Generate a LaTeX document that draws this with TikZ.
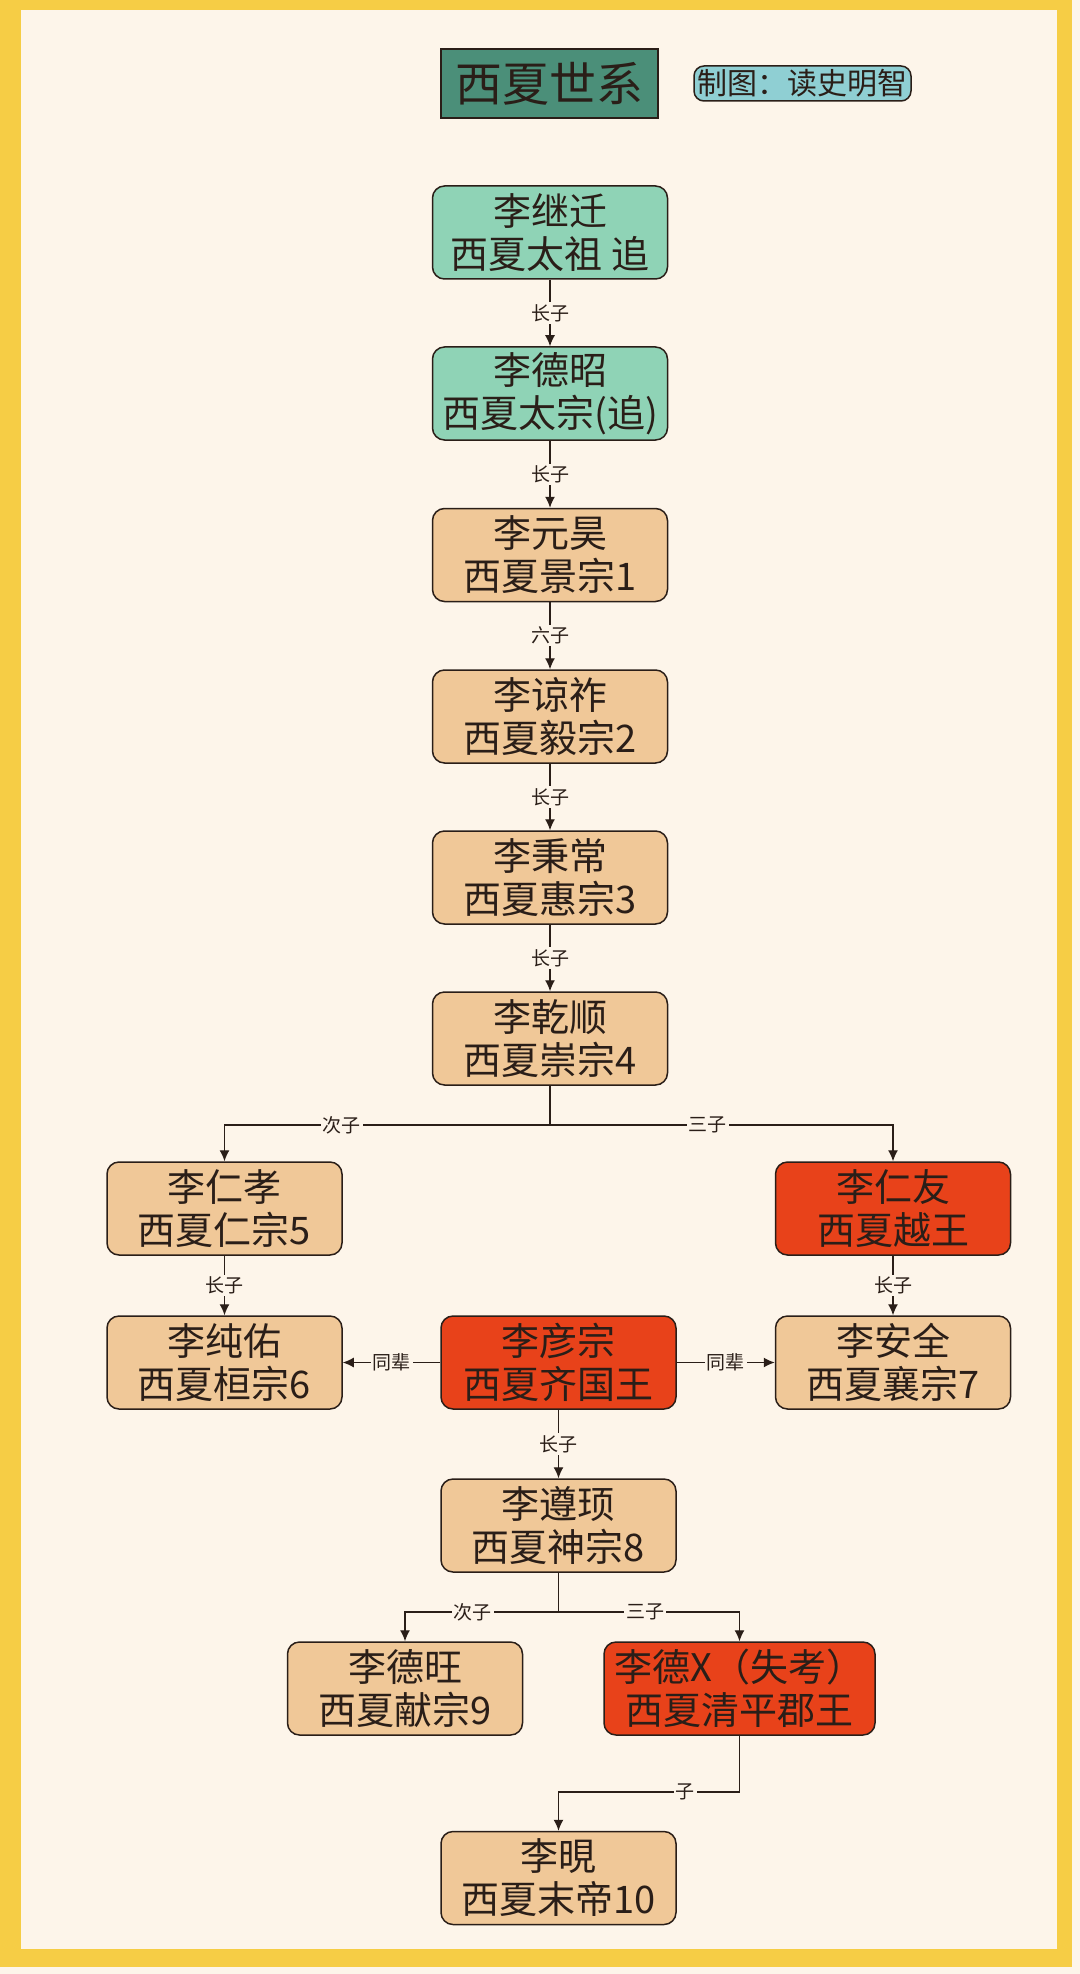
\documentclass[tikz,border=0pt]{standalone}
\usepackage{fontspec}
\setmainfont{Noto Sans CJK SC}
\usetikzlibrary{arrows.meta}

\definecolor{bgcream}{HTML}{FDF5EA}
\definecolor{framegold}{HTML}{F6CD45}
\definecolor{ancfill}{HTML}{8FD3B6}
\definecolor{empfill}{HTML}{F0C898}
\definecolor{wangfill}{HTML}{E8421A}
\definecolor{titlefill}{HTML}{4B8F79}
\definecolor{creditfill}{HTML}{8FCFD3}
\definecolor{ink}{HTML}{2A1E18}

\tikzset{
	person/.style={draw=ink, line width=0.75pt, rounded corners=6pt,
		minimum width=117.5pt, minimum height=46.5pt, inner sep=0pt,
		align=center, text=ink, font=\fontsize{19}{21.5}\selectfont},
	ancestor/.style={person, fill=ancfill},
	emperor/.style={person, fill=empfill},
	prince/.style={person, fill=wangfill},
	kinlab/.style={fill=bgcream, inner sep=1pt, text=ink,
		font=\fontsize{9.5}{10}\selectfont},
	link/.style={draw=ink, line width=0.65pt},
	arr/.style={link, -{Latex[length=5.5pt,width=5pt]}}
}

\begin{document}
\begin{tikzpicture}[x=0.5pt,y=-0.5pt]
	% page and frame
	\fill[bgcream] (0,0) rectangle (1080,1974);
	\fill[framegold] (0,0) rectangle (1072,1967);
	\fill[bgcream] (21,10) rectangle (1057,1949);
	\useasboundingbox (0,0) rectangle (1080,1974);

	% heading
	\node[draw=ink, line width=0.75pt, fill=titlefill, minimum width=108.5pt,
		minimum height=34.5pt, inner sep=0pt, text=ink,
		font=\fontsize{23.5}{23.5}\selectfont] (title) at (549.5,83.5) {西夏世系};
	\node[draw=ink, line width=0.75pt, fill=creditfill, rounded corners=5pt,
		minimum width=108.5pt, minimum height=17.5pt, inner sep=0pt, text=ink,
		font=\fontsize{15}{15}\selectfont] (credit) at (802.5,83.5) {制图：读史明智};

	% main line
	\foreach \nid/\ny/\nkind/\nname/\ntitle in {
		n1/232.5/ancestor/李继迁/西夏太祖 追,
		n2/393.5/ancestor/李德昭/西夏太宗(追),
		n3/555/emperor/李元昊/西夏景宗1,
		n4/716.5/emperor/李谅祚/西夏毅宗2,
		n5/877.5/emperor/李秉常/西夏惠宗3,
		n6/1038.5/emperor/李乾顺/西夏崇宗4
	}
		\node[\nkind] (\nid) at (550,\ny) {\nname\\\ntitle};

	\foreach \a/\b/\rel in {n1/n2/长子, n2/n3/长子, n3/n4/六子, n4/n5/长子, n5/n6/长子}
		\draw[arr] (\a) -- node[kinlab]{\rel} (\b);

	% sons of 李乾顺
	\node[emperor] (n7l) at (224.5,1208.5) {李仁孝\\西夏仁宗5};
	\node[prince] (n7r) at (893,1208.5) {李仁友\\西夏越王};
	\node[emperor] (n8l) at (224.5,1362.5) {李纯佑\\西夏桓宗6};
	\node[prince] (n8m) at (558.5,1362.5) {李彦宗\\西夏齐国王};
	\node[emperor] (n8r) at (893,1362.5) {李安全\\西夏襄宗7};
	\node[emperor] (n9) at (558.5,1525.5) {李遵顼\\西夏神宗8};
	\node[emperor] (n10l) at (405,1688.5) {李德旺\\西夏献宗9};
	\node[prince, minimum width=135.5pt] (n10r) at (739.5,1688.5) {李德X（失考）\\西夏清平郡王};
	\node[emperor] (n11) at (558.5,1878) {李晛\\西夏末帝10};

	\coordinate (fork6) at (550,1125);
	\draw[link] (n6) -- (fork6);
	\draw[arr] (fork6) -| node[kinlab,pos=0.32]{次子} (n7l);
	\draw[arr] (fork6) -| node[kinlab,pos=0.23]{三子} (n7r);

	\draw[arr] (n7l) -- node[kinlab]{长子} (n8l);
	\draw[arr] (n7r) -- node[kinlab]{长子} (n8r);
	\draw[arr] (n8m) -- node[kinlab]{同辈} (n8l);
	\draw[arr] (n8m) -- node[kinlab]{同辈} (n8r);
	\draw[arr] (n8m) -- node[kinlab]{长子} (n9);

	\coordinate (fork9) at (558.5,1612);
	\draw[link] (n9) -- (fork9);
	\draw[arr] (fork9) -| node[kinlab,pos=0.28]{次子} (n10l);
	\draw[arr] (fork9) -| node[kinlab,pos=0.24]{三子} (n10r);

	\coordinate (bend) at (558.5,1792);
	\draw[arr] (n10r) |- node[kinlab,pos=0.65]{子} (bend) -- (n11);
\end{tikzpicture}
\end{document}
